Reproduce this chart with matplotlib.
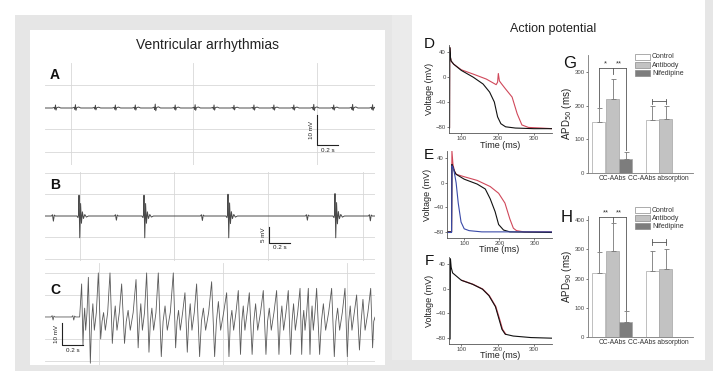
import matplotlib
matplotlib.use("Agg")
import matplotlib.pyplot as plt
from matplotlib.patches import Rectangle

plt.rcParams['font.family'] = ['Liberation Sans', 'DejaVu Sans']

W, H = 713, 371

# ---------------- data: ECG traces (times in s, voltages in mV) ----------------
a_beats = [0.10, 0.29, 0.48, 0.67, 0.86, 1.05, 1.24, 1.43, 1.61, 1.80,
           1.99, 2.18, 2.37, 2.56, 2.75, 2.93, 3.12]
a_amp = [1.0, 1.1, 0.9, 1.0, 1.0, 1.3, 1.0, 1.1, 1.0, 0.9, 1.0, 1.0, 1.0, 1.2, 1.0, 1.2, 1.1]

b_pvc = [0.324, 0.943, 1.743, 2.762]
b_pvc_up = [6.5, 6.5, 6.8, 7.0]
b_pvc_down = [-6.8, -6.8, -6.8, -6.8]
b_small = [0.076, 0.676, 1.495, 2.495, 3.095]
b_small_amp = [-1.6, -1.3, -1.4, -1.3, -1.5]

c_pre = [0.073, 0.27]
c_peak_t = [0.349, 0.413, 0.508, 0.619, 0.730, 0.867, 0.968, 1.079, 1.222, 1.333,
            1.444, 1.587, 1.730, 1.841, 1.946, 2.079, 2.206, 2.317, 2.429, 2.508,
            2.587, 2.730, 2.857, 2.968, 3.102]
c_peak_v = [15, 18, 20, 20, 15, 17, 20, 20, 20, 11, 15, 16, 11, 12, 11, 12, 12, 12,
            13, 13, 13, 13, 13, 10, 13]
c_trough_v = [-13, -21, -10, -12, -12, -14, -16, -18, -14, -16, -18, -18, -18, -17,
              -17, -17, -17, -17, -17, -17, -17, -18, -18, -15, -14]
c_mid_v = [4, 6, 2, 5, 3, 6, 4, 5, 3, 6, 4, 7, 3, 5, 6, 4, 5, 6, 3, 5, 6, 4, 5, 8, 0]

# ---------------- data: action potentials (ms, mV) ----------------
d_ctrl_t = [66, 67.5, 68, 70, 72, 79, 100, 133, 160, 178, 191, 200, 209, 222, 249, 300, 350]
d_ctrl_v = [-82, -82, 48, 32, 26, 21, 11, 0, -11, -24, -40, -64, -75, -80, -82, -83, -83]
d_ab_t = [66, 67.5, 68, 70, 72, 79, 100, 133, 169, 196, 200, 202, 205, 210, 222, 240,
          254, 267, 285, 320, 350]
d_ab_v = [-82, -82, 48, 32, 26, 21, 12, 5, -3, -12, -8, 6, -6, -10, -19, -32,
          -59, -77, -81, -82, -83]

e_ab_t = [52, 64, 65, 68, 72, 77, 100, 137, 174, 198, 216, 230, 240, 249, 270, 350]
e_ab_v = [-80, -80, 52, 30, 20, 14, 10, 4, -6, -17, -33, -59, -74, -78, -80, -80]
e_ctrl_t = [52, 64, 65, 68, 72, 77, 100, 137, 160, 174, 188, 198, 212, 230, 350]
e_ctrl_v = [-80, -80, 30, 26, 19, 14, 6, -2, -10, -26, -47, -68, -77, -80, -81]
e_nif_t = [52, 64, 65, 68, 70, 74, 77, 83, 91, 100, 114, 150, 350]
e_nif_v = [-81, -81, 28, 25, 22, 10, 0, -33, -64, -75, -78, -80, -80]

f_ctrl_t = [66, 69, 70, 72, 76, 100, 131, 158, 176, 194, 203, 212, 221, 243, 292, 350]
f_ctrl_v = [-82, -82, 49, 35, 26, 14, 7.5, -0.4, -11, -29, -47.5, -66, -74, -77, -79.5, -80.5]
f_ab_t = [101, 132, 159, 177, 195, 204.5, 213.5, 222.5]
f_ab_v = [14, 7.5, -0.4, -11, -29, -47.5, -66, -74]

# ---------------- data: APD bars ----------------
groups = ['CC-AAbs', 'CC-AAbs absorption']
series = ['Control', 'Antibody', 'Nifedipine']
apd50_g1 = [152, 220, 40]
apd50_g1_err = [41, 60, 23]
apd50_g2 = [157, 160]
apd50_g2_err = [41, 38]
apd90_g1 = [218, 295, 50]
apd90_g1_err = [74, 95, 38]
apd90_g2 = [225, 232]
apd90_g2_err = [70, 71]

bar_colors = ['white', '#c2c2c2', '#7d7d7d']


def box(x0, y0, x1, y1):
    return [x0 / W, 1 - y1 / H, (x1 - x0) / W, (y1 - y0) / H]


def ftext(x, y, s, **kw):
    fig.text(x / W, 1 - y / H, s, **kw)


def frect(x0, y0, x1, y1, color, z=-5, **kw):
    fig.patches.append(Rectangle((x0 / W, 1 - y1 / H), (x1 - x0) / W, (y1 - y0) / H,
                                 transform=fig.transFigure, facecolor=color,
                                 edgecolor=kw.pop('ec', 'none'), lw=kw.pop('lw', 0),
                                 zorder=z, figure=fig))


fig = plt.figure(figsize=(W / 100, H / 100), dpi=100)
fig.patch.set_facecolor('white')

# panel backgrounds
frect(15, 15, 392, 371, '#e6e6e6')
frect(30, 30, 385, 365, 'white', z=-4)
frect(392, 15, 412, 371, '#ebebeb')
frect(705, 0, 713, 371, '#e6e6e6')
frect(392, 360, 713, 371, '#e6e6e6')

ftext(207, 45, 'Ventricular arrhythmias', ha='center', va='center', fontsize=10, color='#222')
ftext(553, 29, 'Action potential', ha='center', va='center', fontsize=9, color='#222')

grid_c = '#d8d8d8'
trace_c = '#4a4a4a'


def build(beats, amps, dts, shape, t_end=3.143):
    ts, vs = [0.0], [0.0]
    for b, a in zip(beats, amps):
        for d, s in zip(dts, shape):
            ts.append(b + d)
            vs.append(a * s)
    ts.append(t_end)
    vs.append(0.0)
    return ts, vs


def scalebar(ax, t0, v0, dv, lab_v, lab_t, fs=4.5):
    ax.plot([t0, t0, t0 + 0.2], [v0 + dv, v0, v0], color='#222', lw=0.8)
    ax.text(t0 - 0.03, v0 + dv / 2, lab_v, rotation=90, ha='right', va='center',
            fontsize=fs, color='#222')
    ax.text(t0 + 0.1, v0 - dv * 0.12, lab_t, ha='center', va='top', fontsize=fs, color='#222')


# ---- A ----
axA = fig.add_axes(box(45, 63, 375, 165))
axA.set_xlim(0, 3.143)
axA.set_ylim(-19, 15)
for t in [0.248, 1.41, 2.59]:
    axA.axvline(t, color=grid_c, lw=0.6, zorder=0)
for v in [7.7, -7, -14.7]:
    axA.axhline(v, color=grid_c, lw=0.6, zorder=0)
ta, va = build(a_beats, a_amp, [-0.03, -0.012, -0.006, 0, 0.005, 0.012, 0.03, 0.05],
               [0, 0.2, -0.4, 1.0, -0.7, 0.1, 0.3, 0])
axA.plot(ta, va, color=trace_c, lw=0.7)
scalebar(axA, 2.59, -12.3, 10, '10 mV', '0.2 s')
axA.axis('off')
ftext(50, 75, 'A', fontsize=10, fontweight='bold', ha='left', va='center', color='#111')

# ---- B ----
axB = fig.add_axes(box(45, 172, 375, 261))
axB.set_xlim(0, 3.143)
axB.set_ylim(-14.06, 13.75)
for t in [0.333, 1.229, 2.124, 3.029]:
    axB.axvline(t, color=grid_c, lw=0.6, zorder=0)
for v in [13.4, 6.9, -6.6, -13.4]:
    axB.axhline(v, color=grid_c, lw=0.6, zorder=0)
tb, vb = [0.0], [0.0]
events = sorted([(t, 'p', u, d) for t, u, d in zip(b_pvc, b_pvc_up, b_pvc_down)] +
                [(t, 's', a, 0) for t, a in zip(b_small, b_small_amp)])
for t, kind, u, d in events:
    if kind == 'p':
        dts = [-0.02, -0.01, -0.005, 0, 0.007, 0.015, 0.023, 0.032, 0.042, 0.055, 0.07, 0.09]
        vs = [0, -0.5, 0.3, u, d, 0.6 * u, -0.35 * u, 0.2 * u, -0.12 * u, 0.07 * u, -0.05 * u, 0]
    else:
        dts = [-0.015, -0.005, 0.004, 0.012, 0.022]
        vs = [0, 0.4, u, 0.3, 0]
    tb += [t + x for x in dts]
    vb += vs
tb.append(3.143)
vb.append(0)
axB.plot(tb, vb, color=trace_c, lw=0.7)
scalebar(axB, 2.133, -8.4, 5, '5 mV', '0.2 s')
axB.axis('off')
ftext(50, 185, 'B', fontsize=10, fontweight='bold', ha='left', va='center', color='#111')

# ---- C ----
axC = fig.add_axes(box(45, 263, 375, 365))
axC.set_xlim(0, 3.143)
axC.set_ylim(-21.8, 24.5)
for t in [0.514, 1.695, 2.876]:
    axC.axvline(t, color=grid_c, lw=0.6, zorder=0)
for v in [20, 10, -10, -20]:
    axC.axhline(v, color=grid_c, lw=0.6, zorder=0)
tc, vc = [0.0], [0.0]
for t in c_pre:
    tc += [t - 0.015, t - 0.005, t + 0.004, t + 0.012, t + 0.022]
    vc += [0, 0.6, -1.4, 0.4, 0]
tc.append(0.33)
vc.append(0)
for i, t in enumerate(c_peak_t):
    nxt = c_peak_t[i + 1] if i + 1 < len(c_peak_t) else 3.143 + 0.05
    dt = nxt - t
    tc += [t, t + 0.2 * dt, t + 0.32 * dt, t + 0.45 * dt, t + 0.6 * dt, t + 0.8 * dt]
    vc += [c_peak_v[i], c_trough_v[i], -2, c_mid_v[i], -6, 2]
axC.plot(tc, vc, color='#5a5a5a', lw=0.6)
scalebar(axC, 0.162, -12.7, 10, '10 mV', '0.2 s')
axC.axis('off')
ftext(50, 290, 'C', fontsize=10, fontweight='bold', ha='left', va='center', color='#111')


# ---- D, E, F ----
def ap_axes(rect, xlim, label, lab_xy, xlab_y):
    ax = fig.add_axes(box(*rect))
    ax.set_xlim(*xlim)
    ax.set_ylim(-90, 52)
    ax.set_facecolor('none')
    for s in ['top', 'right']:
        ax.spines[s].set_visible(False)
    for s in ['left', 'bottom']:
        ax.spines[s].set_color('#555')
        ax.spines[s].set_linewidth(0.6)
    ax.set_yticks([40, 0, -40, -80])
    ax.set_xticks([100, 200, 300])
    ax.tick_params(labelsize=4.3, length=1.5, width=0.5, pad=0.8, colors='#444')
    ax.set_ylabel('Voltage (mV)', fontsize=6.5, labelpad=1, color='#222')
    ftext(lab_xy[0], lab_xy[1], label, fontsize=11, ha='center', va='center', color='#111')
    ftext((rect[0] + rect[2]) / 2, xlab_y, 'Time (ms)', fontsize=6.5, ha='center',
          va='center', color='#222')
    return ax


red = '#d0485a'
axD = ap_axes((449, 45, 552, 133), (66, 350), 'D', (429, 44), 145)
axD.plot(d_ab_t, d_ab_v, color=red, lw=0.8)
axD.plot(d_ctrl_t, d_ctrl_v, color='#111', lw=0.8)

axE = ap_axes((447, 151, 552, 238), (51, 350), 'E', (429, 155), 250)
axE.plot(e_ab_t, e_ab_v, color=red, lw=0.8)
axE.plot(e_ctrl_t, e_ctrl_v, color='#111', lw=0.8)
axE.plot(e_nif_t, e_nif_v, color='#3a4aa8', lw=0.8)

axF = ap_axes((449, 257, 552, 344), (66, 350), 'F', (429, 261), 356)
axF.plot(f_ab_t, f_ab_v, color=red, lw=0.9)
axF.plot(f_ctrl_t, f_ctrl_v, color='#111', lw=0.8)


# ---- G, H ----
pos_g1 = [10.5, 24.5, 37.5]
pos_g2 = [64, 77.5]
bw = 13


def apd_axes(rect, ylim, yticks, vals1, err1, vals2, err2, sub, label, lab_xy,
             br1, drops, mid_drop, br2, stars, leg_y):
    ax = fig.add_axes(box(*rect))
    ax.set_xlim(0, 105)
    ax.set_ylim(*ylim)
    ax.set_facecolor('none')
    for s in ['top', 'right']:
        ax.spines[s].set_visible(False)
    for s in ['left', 'bottom']:
        ax.spines[s].set_color('#777')
        ax.spines[s].set_linewidth(0.6)
    ax.bar(pos_g1, vals1, width=bw, color=bar_colors, edgecolor='#a5a5a5', lw=0.5)
    ax.bar(pos_g2, vals2, width=bw, color=bar_colors[:2], edgecolor='#a5a5a5', lw=0.5)
    ax.errorbar(pos_g1, vals1, yerr=[[0] * 3, err1], fmt='none', ecolor='#777',
                elinewidth=0.6, capsize=1.8, capthick=0.6)
    ax.errorbar(pos_g2, vals2, yerr=[[0] * 2, err2], fmt='none', ecolor='#777',
                elinewidth=0.6, capsize=1.8, capthick=0.6)
    ax.set_yticks(yticks)
    ax.set_xticks([pos_g1[1], (pos_g2[0] + pos_g2[1]) / 2])
    ax.set_xticklabels(groups)
    ax.tick_params(axis='x', length=0, labelsize=4.8, pad=2, colors='#333')
    ax.tick_params(axis='y', labelsize=4.3, length=1.5, width=0.5, pad=1, colors='#444')
    ax.set_ylabel('APD$_{%s}$ (ms)' % sub, fontsize=7, labelpad=0.5, color='#222')
    # brackets
    kw = dict(color='#555', lw=0.6, clip_on=False)
    ax.plot([pos_g1[0], pos_g1[2]], [br1, br1], **kw)
    ax.plot([pos_g1[0], pos_g1[0]], [br1, drops[0]], **kw)
    ax.plot([pos_g1[2], pos_g1[2]], [br1, drops[1]], **kw)
    ax.plot([pos_g1[1], pos_g1[1]], [br1, mid_drop], **kw)
    ax.plot([pos_g2[0], pos_g2[1]], [br2, br2], **kw)
    d = (ylim[1] - ylim[0]) * 0.025
    ax.plot([pos_g2[0], pos_g2[0]], [br2 - d, br2 + d], **kw)
    ax.plot([pos_g2[1], pos_g2[1]], [br2 - d, br2 + d], **kw)
    ax.text((pos_g1[0] + pos_g1[1]) / 2, br1 + d * 0.3, stars[0], ha='center',
            va='bottom', fontsize=5.5, color='#333', clip_on=False)
    ax.text((pos_g1[1] + pos_g1[2]) / 2, br1 + d * 0.3, stars[1], ha='center',
            va='bottom', fontsize=5.5, color='#333', clip_on=False)
    ftext(lab_xy[0], lab_xy[1], label, fontsize=12, ha='center', va='center', color='#111')
    # legend
    for i, (name, c) in enumerate(zip(series, bar_colors)):
        y0 = leg_y + i * 8.2
        frect(635, y0, 650, y0 + 6, c, z=5, ec='#8a8a8a', lw=0.5)
        ftext(652, y0 + 3, name, fontsize=5, ha='left', va='center', color='#333')
    return ax


axG = apd_axes((588, 55, 693, 172.7), (0, 352), [0, 100, 200, 300],
               apd50_g1, apd50_g1_err, apd50_g2, apd50_g2_err, '50', 'G', (570, 63),
               313, (197, 67), 296, 213, ('*', '**'), 54)
axH = apd_axes((588, 216, 693, 336.7), (0, 415), [0, 100, 200, 300, 400],
               apd90_g1, apd90_g1_err, apd90_g2, apd90_g2_err, '90', 'H', (567, 217),
               412, (296, 92), 395, 325, ('**', '**'), 207)

fig.savefig('out.png', dpi=100)
